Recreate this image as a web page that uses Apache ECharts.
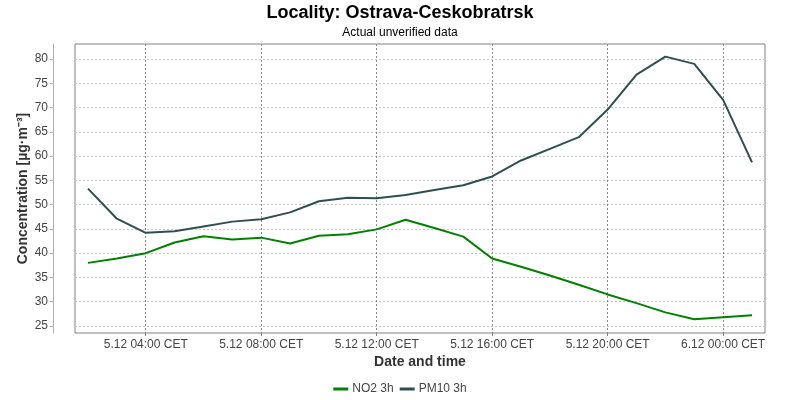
<!DOCTYPE html>
<html>
<head>
<meta charset="utf-8">
<script src="https://cdn.jsdelivr.net/npm/echarts@6/dist/echarts.min.js"></script>
<style>
  html, body { margin: 0; padding: 0; background: #fff; }
  #chart { width: 800px; height: 400px; }
</style>
</head>
<body>
<div id="chart"></div>
<script>
// hours since 5.12 00:00 CET
const hours = [2, 3, 4, 5, 6, 7, 8, 9, 10, 11, 12, 13, 14, 15, 16, 17, 18, 19, 20, 21, 22, 23, 24, 25]
const no2 = [38.0, 38.9, 40.0, 42.2, 43.5, 42.8, 43.2, 42.0, 43.6, 43.9, 44.9, 46.9, 45.2, 43.4, 38.9, 37.2, 35.4, 33.5, 31.5, 29.7, 27.8, 26.4, 26.8, 27.2]
const pm10 = [53.3, 47.1, 44.2, 44.5, 45.5, 46.5, 47.0, 48.4, 50.7, 51.4, 51.3, 52.0, 53.0, 54.0, 55.8, 59.1, 61.5, 63.9, 69.6, 76.8, 80.5, 79.0, 71.6, 58.7]
const xTicks = [4, 8, 12, 16, 20, 24]
const xTickLabels = ["5.12 04:00 CET", "5.12 08:00 CET", "5.12 12:00 CET", "5.12 16:00 CET", "5.12 20:00 CET", "6.12 00:00 CET"]
const yTicks = [25, 30, 35, 40, 45, 50, 55, 60, 65, 70, 75, 80]

const chart = echarts.init(document.getElementById("chart"))
const font = "Liberation Sans, Arial, sans-serif"

chart.setOption({
  backgroundColor: "#fff",
  textStyle: { fontFamily: font },
  title: {
    text: "Locality: Ostrava-Ceskobratrsk",
    subtext: "Actual unverified data",
    left: "center",
    top: -1,
    itemGap: 5,
    textStyle: { fontSize: 18, fontWeight: "bold", color: "#000", fontFamily: font },
    subtextStyle: { fontSize: 12, color: "#000", fontFamily: font }
  },
  legend: {
    bottom: 0,
    left: "center",
    icon: "rect",
    itemWidth: 15,
    itemHeight: 3,
    itemGap: 6,
    textStyle: { fontSize: 12, color: "#444", padding: [0, 0, 0, -1] },
    data: ["NO2 3h", "PM10 3h"]
  },
  grid: {
    left: 75,
    right: 35,
    top: 44,
    bottom: 67,
    show: true,
    borderColor: "#808080",
    borderWidth: 1
  },
  xAxis: {
    type: "value",
    min: 1.55,
    max: 25.45,
    name: "Date and time",
    nameLocation: "middle",
    nameGap: 22,
    nameMoveOverlap: false,
    nameTextStyle: { fontSize: 14, fontWeight: "bold", color: "#333" },
    axisLine: { show: false },
    axisTick: { show: true, customValues: xTicks, length: 3, lineStyle: { color: "#808080" } },
    axisLabel: {
      customValues: xTicks,
      margin: 6,
      fontSize: 12,
      color: "#444",
      formatter: v => xTickLabels[xTicks.indexOf(v)]
    },
    splitLine: { show: true, lineStyle: { color: "#8a8a8a", type: [2, 2] } }
  },
  yAxis: {
    type: "value",
    min: 23.55,
    max: 83.1,
    offset: 22,
    name: "Concentration [µg·m⁻³]",
    nameLocation: "middle",
    nameGap: 23,
    nameMoveOverlap: false,
    nameTextStyle: { fontSize: 14, fontWeight: "bold", color: "#333", letterSpacing: 0.9 },
    axisLine: { show: true, lineStyle: { color: "#b0b0b0" } },
    axisTick: { show: true, customValues: yTicks, length: 3, lineStyle: { color: "#b0b0b0" } },
    axisLabel: { customValues: yTicks, margin: 5, fontSize: 12, color: "#444" },
    splitLine: { show: true, lineStyle: { color: "#c8c8c8", type: [2, 2] } }
  },
  series: [
    {
      name: "NO2 3h",
      type: "line",
      data: hours.map((h, i) => [h, no2[i]]),
      showSymbol: false,
      color: "#008000",
      lineStyle: { width: 2 }
    },
    {
      name: "PM10 3h",
      type: "line",
      data: hours.map((h, i) => [h, pm10[i]]),
      showSymbol: false,
      color: "#2f4f4f",
      lineStyle: { width: 2 }
    }
  ]
})
</script>
</body>
</html>
